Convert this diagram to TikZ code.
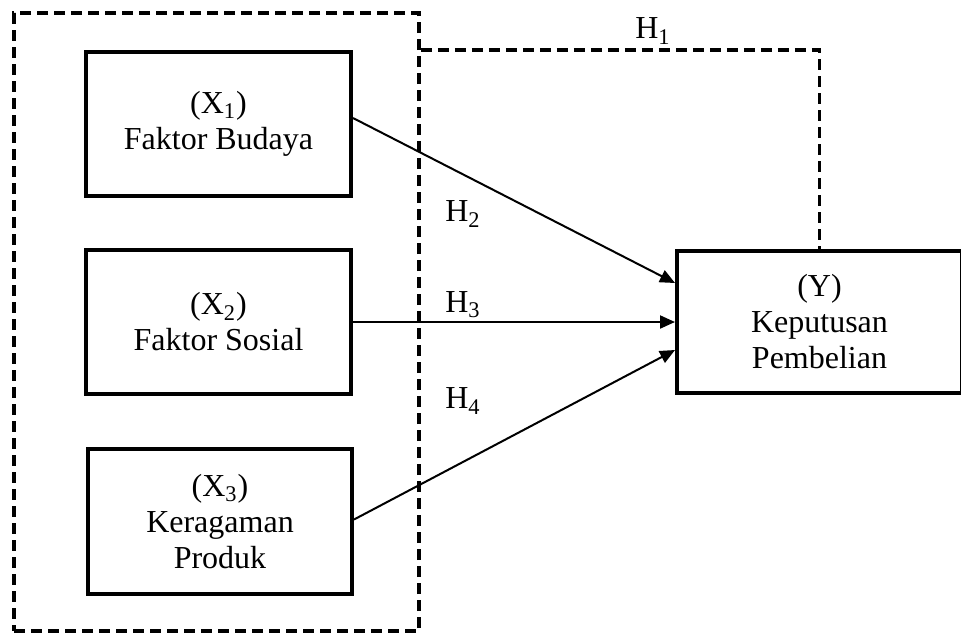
\documentclass[tikz,border=0pt]{standalone}
\usepackage{fontspec}
\setmainfont{Liberation Serif}
\usetikzlibrary{arrows.meta,calc}
\tikzset{
	varbox/.style={draw, line width=2pt, align=center, inner sep=0pt, font=\fontsize{16}{18}\selectfont},
	grpbox/.style={draw, line width=1.8pt, dash pattern=on 5.5pt off 3pt, inner sep=0pt},
	hyparrow/.style={line width=1pt, -{Triangle[length=7.5pt,width=6.5pt]}},
	hlabel/.style={font=\fontsize{16}{18}\selectfont, inner sep=0pt}
}

\begin{document}
\begin{tikzpicture}[x=0.5pt, y=-0.5pt]
			%%%%% START %%%%%
			\useasboundingbox (0, 0) rectangle (961, 633);
			
			\node[grpbox, minimum width=202.5pt, minimum height=309pt] (grp) at (216.5, 322) {};
			
			\node[varbox, minimum width=132.5pt, minimum height=72pt] (X1) at (218.5, 124) {(X\textsubscript{1})\\Faktor Budaya};
			\node[varbox, minimum width=132.5pt, minimum height=72pt] (X2) at (218.5, 322) {(X\textsubscript{2})\\Faktor Sosial};
			\node[varbox, minimum width=132pt, minimum height=72.5pt] (X3) at (220, 521.5) {(X\textsubscript{3})\\Keragaman\\Produk};
			
			\node[varbox, minimum width=142.5pt, minimum height=71pt] (Y) at (819.5, 322) {(Y)\\Keputusan\\Pembelian};
			
			\draw[grpbox] (grp.east |- X1.north) -| (Y.north);
			\node[hlabel] (h1) at (653, 31) {H\textsubscript{1}};
			
			\draw[hyparrow] ([yshift=3pt]X1.east) -- ([yshift=19.5pt]Y.west);
			\draw[hyparrow] (X2.east) -- (Y.west);
			\draw[hyparrow] ([yshift=1pt]X3.east) -- ([yshift=-14pt]Y.west);
			
			\node[hlabel] (h2) at (463, 214) {H\textsubscript{2}};
			\node[hlabel] (h3) at (463, 305) {H\textsubscript{3}};
			\node[hlabel] (h4) at (463, 401) {H\textsubscript{4}};
			%%%%% END %%%%%
\end{tikzpicture}
\end{document}
